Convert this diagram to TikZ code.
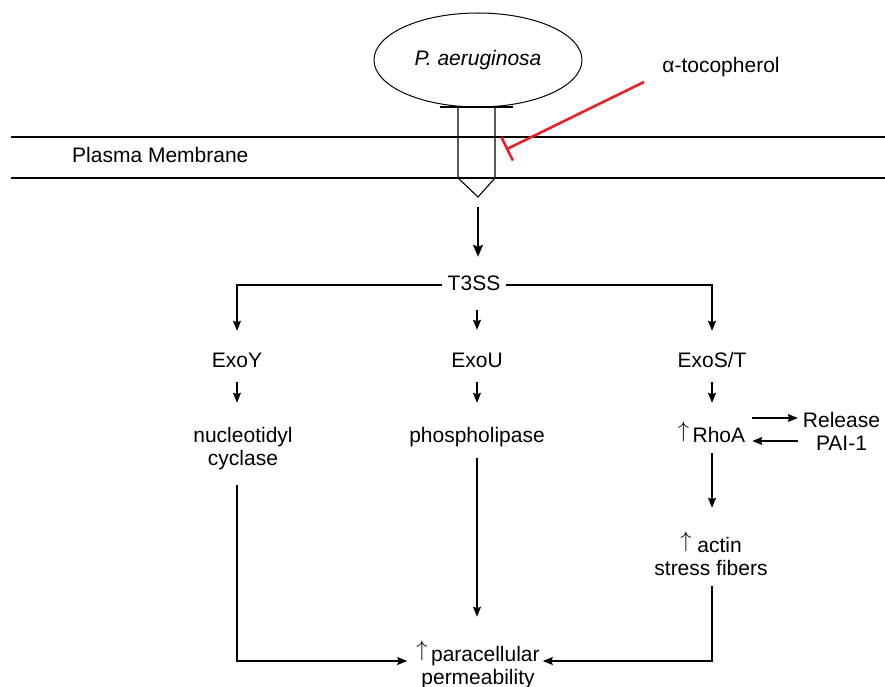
\documentclass[tikz,border=0pt]{standalone}
\usepackage{fontspec}
\setmainfont{Liberation Sans}
\usetikzlibrary{arrows.meta,shapes.geometric,calc}
\newcommand\myup{\raisebox{4.5pt}{\scalebox{1.08}{$\uparrow$}}}
\newcommand\mytwo[2]{\begin{tabular}[t]{@{}c@{}}#1\\#2\end{tabular}}
\tikzset{
  lbl/.style={inner sep=0pt, anchor=base, font=\fontsize{21}{23}\selectfont},
  one/.style={lbl, text height=15pt, text depth=5pt},
  arr/.style={line width=1.2pt, -{Stealth[length=10pt,width=8pt,inset=1.5pt]}},
  bigarr/.style={line width=1.2pt, -{Stealth[length=12pt,width=10pt,inset=2pt]}},
  memb/.style={line width=2.2pt},
  needle/.style={line width=1.1pt, line join=miter},
  inh/.style={line width=2.6pt, draw={rgb,255:red,232;green,32;blue,40}, -{Bar[width=26pt]}},
}
\begin{document}
\begin{tikzpicture}[x=1pt,y=-1pt]
\useasboundingbox (0,0) rectangle (885,687);
% membrane
\draw[memb] (11,137) -- (885,137);
\draw[memb] (11,178) -- (885,178);
\node[lbl, anchor=base west] (pm) at (72,163) {Plasma Membrane};
% bacterium
\node[draw, ellipse, line width=1pt, minimum width=208pt, minimum height=94pt, inner sep=0pt,
      font=\fontsize{21}{23}\selectfont\itshape] (bact) at (478,60) {P. aeruginosa};
% needle
\draw[needle] (440,107) -- (513,107);
\draw[needle] (458,107) -- (458,178) -- (478,197) -- (495,178) -- (495,107);
\coordinate (ntip) at (478,197);
% inhibitor
\node[lbl] (toco) at (721,73) {α-tocopherol};
\coordinate (inhA) at (644,82);
\coordinate (inhB) at (506,149.5);
\draw[inh] (inhA) -- (inhB);
% nodes
\node[one, inner xsep=6pt] (t3) at (474,290) {T3SS};
\node[one] (exoy) at (237,367) {ExoY};
\node[one] (exou) at (477,367) {ExoU};
\node[one] (exost) at (712,367) {ExoS/T};
\node[lbl] (nuc) at (243,442) {\mytwo{nucleotidyl}{cyclase}};
\node[one] (phos) at (477,442) {phospholipase};
\node[one] (rhoa) at (711.5,442) {\myup\,RhoA};
\node[lbl] (rel) at (841.5,427) {\mytwo{Release}{PAI-1}};
\node[lbl] (actin) at (711,552) {\mytwo{\myup\;actin}{stress fibers}};
\node[lbl] (para) at (478,661) {\mytwo{\myup\,paracellular}{permeability}};
% connectors
\draw[bigarr, shorten <=10pt, shorten >=18pt] (ntip) -- (ntip |- t3.north);
\draw[arr, shorten >=21pt] (t3.west) -| (exoy.north);
\draw[arr, shorten >=21pt] (t3.east) -| (exost.north);
\draw[arr, shorten <=15pt, shorten >=22pt] (exou.north |- t3.south) -- (exou.north);
\draw[arr, shorten <=10pt, shorten >=23pt] (exoy.south) -- (exoy.south |- nuc.north);
\draw[arr, shorten <=10pt, shorten >=24pt] (exou.south) -- (phos.north);
\draw[arr, shorten <=10pt, shorten >=24pt] (exost.south) -- (exost.south |- rhoa.north);
\draw[arr, shorten <=7pt, shorten >=5pt] ([yshift=19pt]rhoa.east) -- ([yshift=19pt]rhoa.east -| rel.west);
\draw[arr, shorten <=5pt, shorten >=7pt] ([yshift=-4pt]rhoa.east -| rel.west) -- ([yshift=-4pt]rhoa.east);
\draw[arr, shorten <=6pt, shorten >=24pt] (exost.south |- rhoa.south) -- (exost.south |- actin.north);
\draw[arr, shorten <=13pt, shorten >=9pt] (exoy.south |- nuc.south) |- (para.base west);
\draw[arr, shorten <=11pt, shorten >=24pt] (phos.south) -- (phos.south |- para.north);
\draw[arr, shorten <=4pt, shorten >=3pt] (exost.south |- actin.south) |- (para.base east);
\end{tikzpicture}
\end{document}
